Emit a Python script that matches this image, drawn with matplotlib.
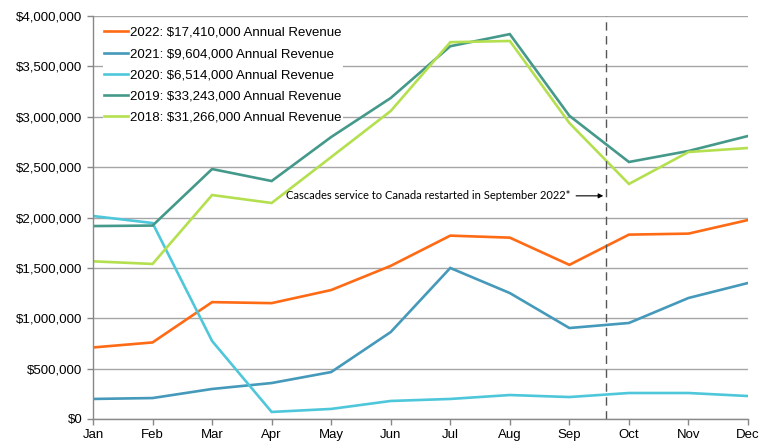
import matplotlib
matplotlib.use("Agg")
import matplotlib.pyplot as plt
from matplotlib.ticker import FuncFormatter

months = ["Jan", "Feb", "Mar", "Apr", "May", "Jun", "Jul", "Aug", "Sep", "Oct", "Nov", "Dec"]

rev_2022 = [710000, 760000, 1160000, 1150000, 1280000, 1520000, 1820000, 1800000, 1530000, 1830000, 1840000, 1975000]
rev_2021 = [199000, 208000, 298000, 357000, 466000, 863000, 1499000, 1250000, 903000, 953000, 1201000, 1350000]
rev_2020 = [2015000, 1945000, 774000, 70000, 100000, 179000, 199000, 238000, 218000, 258000, 258000, 228000]
rev_2019 = [1915000, 1920000, 2481000, 2362000, 2799000, 3186000, 3700000, 3820000, 3010000, 2551000, 2660000, 2809000]
rev_2018 = [1565000, 1539000, 2223000, 2144000, 2600000, 3057000, 3740000, 3752000, 2938000, 2333000, 2650000, 2690000]

labels = [
    "2022: $17,410,000 Annual Revenue",
    "2021: $9,604,000 Annual Revenue",
    "2020: $6,514,000 Annual Revenue",
    "2019: $33,243,000 Annual Revenue",
    "2018: $31,266,000 Annual Revenue",
]
colors = ["#FF6A14", "#4599BA", "#4FC7DA", "#44998A", "#B4E050"]
series = [rev_2022, rev_2021, rev_2020, rev_2019, rev_2018]

restart_pos = 8.62
annotation = "Cascades service to Canada restarted in September 2022*"

plt.rcParams['font.family'] = ['Liberation Sans', 'DejaVu Sans']

fig = plt.figure(figsize=(7.7, 4.45), dpi=100)
ax = fig.add_axes([93/770, 26/445, 655/770, 403/445])

x = list(range(len(months)))
for s, c, l in zip(series, colors, labels):
    ax.plot(x, s, color=c, lw=1.9, label=l, solid_joinstyle='miter')

ax.set_xlim(0, 11)
ax.set_ylim(0, 4000000)
ax.set_yticks(range(0, 4000001, 500000))
ax.yaxis.set_major_formatter(FuncFormatter(lambda v, p: f"${v:,.0f}"))
ax.set_xticks(x)
ax.set_xticklabels(months)
ax.tick_params(axis='both', labelsize=9.5, color='#888888', length=4, width=1)
ax.grid(axis='y', color='#A6A6A6', lw=1)
ax.set_axisbelow(True)
for sp in ['top', 'right']:
    ax.spines[sp].set_visible(False)
for sp in ['left', 'bottom']:
    ax.spines[sp].set_color('#888888')
    ax.spines[sp].set_linewidth(1)

ax.axvline(restart_pos, color='#555555', lw=1, ls=(0, (6, 4)))
ax.annotate(annotation, xy=(restart_pos - 0.05, 2215000), xytext=(8.02, 2215000),
            ha='right', va='center', fontsize=8, family=['Lato', 'DejaVu Sans'],
            arrowprops=dict(arrowstyle='-|>', color='black', lw=0.8, mutation_scale=7,
                            shrinkA=2, shrinkB=0))

leg = ax.legend(loc='upper left', bbox_to_anchor=(0.009, 0.9865), fontsize=9.5,
                frameon=True, framealpha=1, edgecolor='none', facecolor='white',
                handlelength=1.8, handletextpad=0.15, labelspacing=0.68,
                borderaxespad=0.3, borderpad=0.1, fancybox=False)

fig.savefig("out.png", dpi=100)
